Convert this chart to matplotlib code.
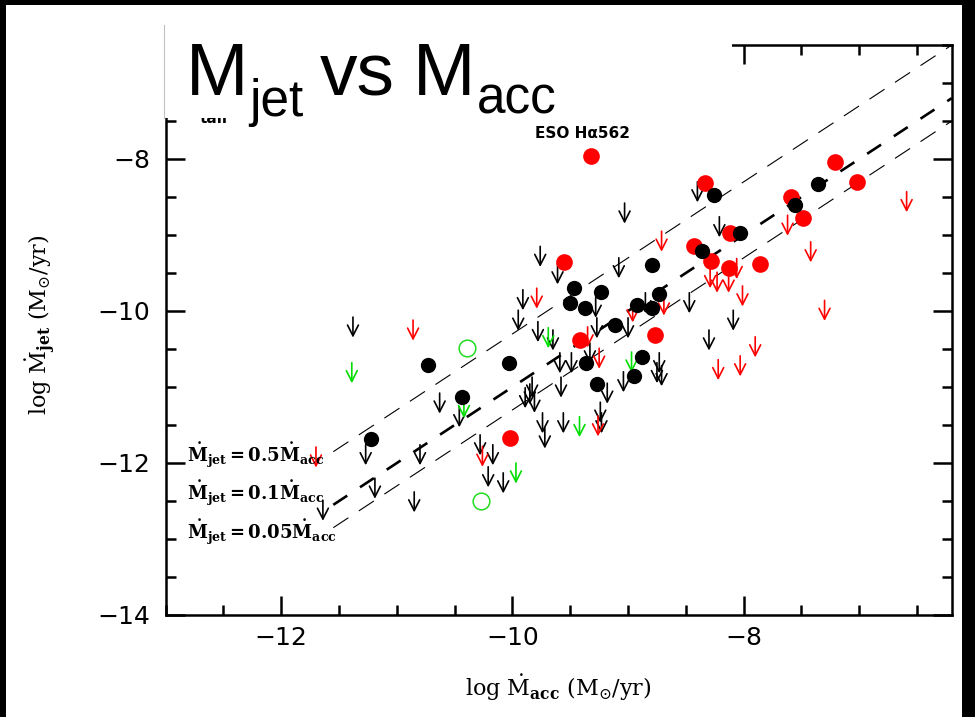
import matplotlib
matplotlib.use('Agg')
import matplotlib.pyplot as plt
import numpy as np
from matplotlib.patches import Rectangle
from matplotlib.lines import Line2D
from matplotlib.ticker import MultipleLocator

plt.rcParams['lines.scale_dashes'] = False
plt.rcParams['mathtext.fontset'] = 'dejavuserif'

# ---- data ----
# detections
black_x = [-8.26, -8.36, -8.03, -7.56, -7.36, -8.79, -9.47, -9.23, -9.50, -9.37, -8.92,
           -8.79, -8.73, -9.11, -9.36, -9.27, -8.88, -8.95, -10.03, -10.73, -10.44, -11.22]
black_y = [-8.47, -9.21, -8.98, -8.61, -8.33, -9.39, -9.70, -9.75, -9.89, -9.96, -9.92,
           -9.96, -9.77, -10.18, -10.68, -10.96, -10.60, -10.86, -10.69, -10.71, -11.13, -11.69]
red_x = [-9.32, -8.33, -8.43, -9.55, -8.28, -8.13, -8.12, -7.86, -7.59, -7.49, -7.21,
         -7.02, -8.77, -9.42, -10.02]
red_y = [-7.96, -8.31, -9.15, -9.35, -9.34, -9.44, -8.97, -9.38, -8.50, -8.77, -8.04,
         -8.30, -10.32, -10.38, -11.67]
green_x = [-10.39, -10.27]
green_y = [-10.49, -12.50]

# upper limits
black_lim_x = [-11.38, -11.64, -11.27, -11.19, -10.85, -10.80, -10.63, -10.46, -10.28, -10.17,
               -10.21, -10.08, -9.89, -9.85, -9.81, -9.83, -9.74, -9.72, -9.78, -9.65, -9.59,
               -9.49, -9.33, -9.58, -9.56, -9.24, -9.23, -9.18, -9.04, -8.73, -8.75, -8.71,
               -8.30, -8.09, -8.21, -8.40, -9.03, -9.76, -9.91, -9.95, -9.61, -9.08, -9.28,
               -9.27, -9.00, -8.85, -8.47]
black_lim_y = [-10.08, -12.49, -11.76, -12.20, -12.38, -11.76, -11.08, -11.26, -11.63, -11.76,
               -12.05, -12.13, -11.01, -10.96, -11.07, -10.87, -11.34, -11.54, -10.14, -10.25, -10.55,
               -10.55, -10.42, -10.87, -11.34, -11.20, -11.34, -10.95, -10.80, -10.55, -10.68, -10.72,
               -10.25, -9.99, -8.76, -8.30, -8.58, -9.15, -9.72, -9.99, -9.38, -9.30, -9.82,
               -10.09, -10.09, -9.76, -9.76]
red_lim_x = [-11.70, -10.86, -10.26, -9.79, -9.35, -9.25, -9.26, -8.96, -8.69, -8.71, -8.29,
             -8.23, -8.13, -8.06, -8.01, -7.90, -8.22, -8.03, -7.62, -7.42, -7.30, -6.59]
red_lim_y = [-11.79, -10.12, -11.78, -9.70, -10.21, -10.49, -11.38, -9.88, -9.79, -8.95, -9.43,
             -9.49, -9.49, -9.31, -9.67, -10.34, -10.64, -10.59, -8.74, -9.09, -9.86, -8.43]
green_lim_x = [-11.39, -10.42, -9.69, -9.42, -8.97, -9.97]
green_lim_y = [-10.68, -11.14, -10.22, -11.39, -10.54, -12.00]

# Mjet = f * Macc
ratios = [0.5, 0.1, 0.05]
ratio_labels = ['0.5', '0.1', '0.05']
line_x = [-11.55, -6.2]

W, H = 975, 717
fig = plt.figure(figsize=(W / 100, H / 100), dpi=100, facecolor='black')
fig.patches.append(Rectangle((6 / W, 0), (962 - 6) / W, (H - 5) / H, transform=fig.transFigure,
                             facecolor='white', edgecolor='none', zorder=-1))

ax = fig.add_axes([165.7 / W, (H - 615) / H, (951.7 - 165.7) / W, (615 - 45) / H])
ax.set_facecolor('none')
ax.set_xlim(-13, -6.2)
ax.set_ylim(-14, -6.5)

# guide lines
lx = np.array(line_x)
ax.plot(lx, lx + np.log10(ratios[0]), color='k', lw=0.8, dashes=(13, 9))
ax.plot(lx, lx + np.log10(ratios[1]), color='k', lw=1.9, dashes=(12, 11))
ax.plot(lx, lx + np.log10(ratios[2]), color='k', lw=0.8, dashes=(13, 9))

# upper-limit arrows
L = 0.27
def limits(xs, ys, c):
    for x, y in zip(xs, ys):
        ax.annotate('', xy=(x, y - L), xytext=(x, y),
                    arrowprops=dict(arrowstyle='->,head_length=0.55,head_width=0.28', color=c,
                                    lw=1.2, shrinkA=0, shrinkB=0, mutation_scale=14))

limits(black_lim_x, black_lim_y, 'black')
limits(red_lim_x, red_lim_y, '#ff0000')
limits(green_lim_x, green_lim_y, '#00dd00')

ax.plot(red_x, red_y, 'o', color='#ff0000', ms=12, mec='none', zorder=3)
ax.plot(black_x, black_y, 'o', color='black', ms=11, mec='none', zorder=4)
ax.plot(green_x, green_y, 'o', mfc='none', mec='#22dd22', ms=12, mew=1.1, zorder=4)

ax.text(-9.39, -7.67, 'ESO H\u03b1562', fontsize=11, fontweight='bold', ha='center', va='center')

for lab, yb in zip(ratio_labels, [-11.99, -12.49, -13.0]):
    ax.text(-12.82, yb, r'$\mathbf{\dot{M}_{jet}=' + lab + r'\dot{M}_{acc}}$', fontsize=13,
            ha='left', va='baseline')

# axes styling
ax.xaxis.set_major_locator(MultipleLocator(2))
ax.xaxis.set_minor_locator(MultipleLocator(0.5))
ax.yaxis.set_major_locator(MultipleLocator(2))
ax.yaxis.set_minor_locator(MultipleLocator(0.5))
ax.tick_params(which='both', direction='in', top=True, right=True, width=1.8)
ax.tick_params(which='major', length=14, labelsize=18)
ax.tick_params(which='minor', length=7)
ax.tick_params(axis='x', pad=8)
ax.tick_params(axis='y', pad=11)
for s in ax.spines.values():
    s.set_linewidth(1.8)

ax.set_xlabel(r'log $\dot{\mathrm{M}}_{\mathbf{acc}}$ (M$_{\odot}$/yr)', fontsize=16, family='DejaVu Serif')
ax.set_ylabel(r'log $\dot{\mathrm{M}}_{\mathbf{jet}}$ (M$_{\odot}$/yr)', fontsize=16, family='DejaVu Serif')
ax.xaxis.set_label_coords(0.499, -0.100)
ax.yaxis.set_label_coords(-0.138, 0.509)

# pasted title box
fig.text(200 / W, 1 - 123 / H, 'tail', fontsize=11, fontweight='bold', zorder=4)
fig.patches.append(Rectangle((164 / W, 1 - 118 / H), (732 - 164) / W, (118 - 22) / H,
                             transform=fig.transFigure, facecolor='white', edgecolor='none', zorder=5))
fig.lines.append(Line2D([164 / W, 164 / W], [1 - 25 / H, 1 - 118 / H], transform=fig.transFigure,
                        color='#c0c0c0', lw=0.8, zorder=6))

renderer = fig.canvas.get_renderer()
def piece(s, x, ybase, size):
    t = fig.text(x / W, 1 - ybase / H, s, fontsize=size, family='Liberation Sans',
                 ha='left', va='baseline', zorder=10)
    return t.get_window_extent(renderer).x1

x1 = piece('M', 186, 95, 54)
x1 = piece('jet', x1 + 1, 116, 37)
x1 = piece('vs', x1 + 16, 95, 54)
x1 = piece('M', x1 + 18, 95, 54)
piece('acc', x1 + 2, 113, 37)

fig.savefig('out.png', dpi=100, facecolor=fig.get_facecolor())
